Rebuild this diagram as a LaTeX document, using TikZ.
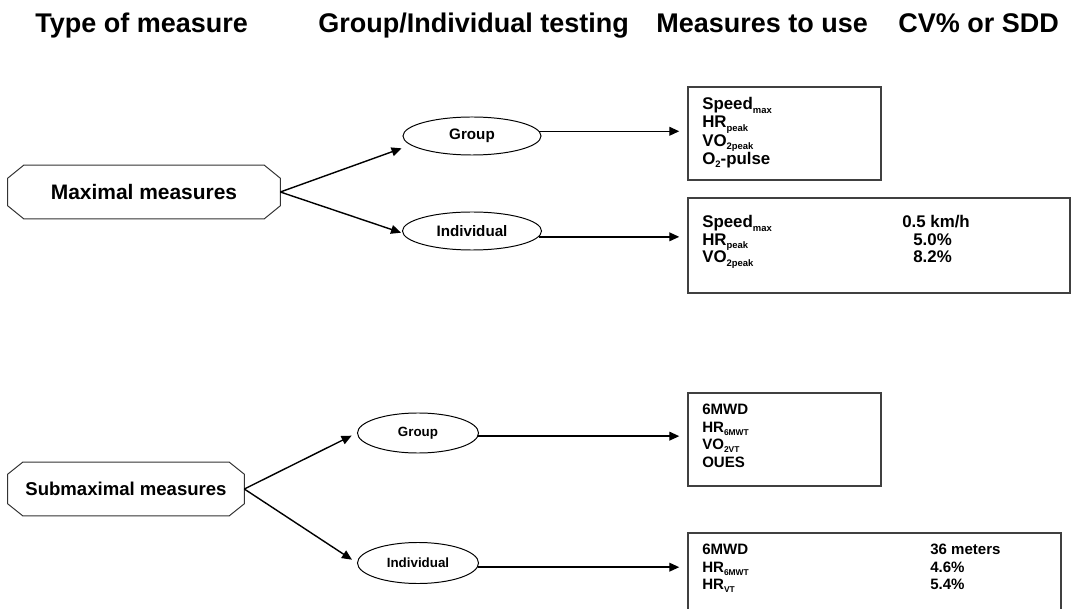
\documentclass[tikz,border=0pt]{standalone}
\usepackage{fontspec}
\setmainfont{Liberation Sans}
\usepackage{graphicx}
\usetikzlibrary{shapes.geometric,arrows.meta,positioning}
% Subindices pequenos y bajados
\newcommand{\lo}[1]{\smash{\raisebox{-0.4ex}{\scalebox{0.56}{#1}}}}
% Octogono alrededor de un nodo: nombre, corte horizontal, corte vertical
\newcommand{\octo}[3]{\draw[draw=black!80, line width=0.7pt]
  ([xshift=#2]#1.north west) -- ([xshift=-#2]#1.north east) -- ([yshift=-#3]#1.north east)
  -- ([yshift=#3]#1.south east) -- ([xshift=-#2]#1.south east) -- ([xshift=#2]#1.south west)
  -- ([yshift=#3]#1.south west) -- ([yshift=-#3]#1.north west) -- cycle;}

\begin{document}
\begin{tikzpicture}[x=0.025cm, y=-0.025cm,
  titulo/.style={font=\fontsize{19.2}{22}\selectfont\bfseries, inner sep=0, anchor=base west},
  tipo/.style={rectangle, inner sep=0, minimum height=1.325cm},
  elipse/.style={ellipse, draw, line width=0.7pt, inner sep=0},
  caja/.style={rectangle, draw=black!75, line width=1pt, inner sep=0},
  texto/.style={anchor=north west, inner sep=0, align=left},
  flecha/.style={line width=1pt, -{Triangle[length=0.25cm,width=0.22cm]}}]
\useasboundingbox (0,0) rectangle (1071,609);

% Titulos de las columnas
\node[titulo] (t1) at (35,33) {Type of measure};
\node[titulo] (t2) at (318,33) {Group/Individual testing};
\node[titulo] (t3) at (656,33) {Measures to use};
\node[titulo] (t4) at (898,33) {CV\% or SDD};

% Tipos de medida
\node[tipo, minimum width=6.8cm, font=\fontsize{14.9}{16}\selectfont\bfseries] (maxm) at (144,192) {Maximal measures};
\node[tipo, minimum width=5.9cm, font=\fontsize{13.2}{15}\selectfont\bfseries] (subm) at (126,489) {Submaximal measures};
\octo{maxm}{0.4cm}{0.325cm}
\octo{subm}{0.375cm}{0.3cm}

% Grupo o individuo
\node[elipse, minimum width=3.45cm, minimum height=0.95cm, font=\fontsize{10.8}{12}\selectfont\bfseries] (grpA) at (472,136) {Group};
\node[elipse, minimum width=3.475cm, minimum height=0.95cm, font=\fontsize{10.8}{12}\selectfont\bfseries] (indA) at (472,231) {Individual};
\node[elipse, minimum width=3.025cm, minimum height=1cm, font=\fontsize{9.5}{11}\selectfont\bfseries] (grpB) at (418,433) {Group};
\node[elipse, minimum width=3.025cm, minimum height=1.025cm, font=\fontsize{9.5}{11}\selectfont\bfseries] (indB) at (418,563) {Individual};

% Cajas con las medidas
\node[caja, minimum width=4.825cm, minimum height=2.325cm] (boxA) at (784.5,133.5) {};
\node[caja, minimum width=9.55cm, minimum height=2.375cm] (boxB) at (879,245.5) {};
\node[caja, minimum width=4.825cm, minimum height=2.325cm] (boxC) at (784.5,439.5) {};
\node[caja, minimum width=9.325cm, minimum height=2.3cm] (boxD) at (874.5,579) {};

\node[texto, font=\fontsize{12}{13}\selectfont\bfseries] (txtA) at (702,97)
  {Speed\lo{max}\\HR\lo{peak}\\VO\lo{2peak}\\O\lo{2}-pulse};
\node[texto, font=\fontsize{12}{12.6}\selectfont\bfseries] (txtB) at (702,215)
  {Speed\lo{max}\\HR\lo{peak}\\VO\lo{2peak}};
\node[texto, font=\fontsize{12}{12.6}\selectfont\bfseries] (cvB) at (902,215)
  {0.5 km/h\\\hspace*{0.275cm}5.0\%\\\hspace*{0.275cm}8.2\%};
\node[texto, font=\fontsize{10.7}{12.4}\selectfont\bfseries] (txtC) at (702,404)
  {6MWD\\HR\lo{6MWT}\\VO\lo{2VT}\\OUES};
\node[texto, font=\fontsize{10.7}{12.4}\selectfont\bfseries] (txtD) at (702,544)
  {6MWD\\HR\lo{6MWT}\\HR\lo{VT}};
\node[texto, font=\fontsize{10.7}{12.4}\selectfont\bfseries] (cvD) at (930,544)
  {36 meters\\4.6\%\\5.4\%};

% Flechas
\draw[flecha, shorten >=0.025cm] (maxm.east) -- ([yshift=-0.3cm]grpA.west);
\draw[flecha, shorten >=0.025cm] (maxm.east) -- ([yshift=-0.05cm]indA.west);
\draw[flecha, shorten >=0.15cm] (subm.east) -- (grpB.west);
\draw[flecha, shorten >=0.15cm] (subm.east) -- (indB.west);

\draw[flecha, shorten >=0.2cm] (grpA.4) -- (grpA.4 -| boxA.west);
\draw[flecha, shorten >=0.2cm] (indA.-5) -- (indA.-5 -| boxB.west);
\draw[flecha, shorten >=0.2cm] (grpB.-3) -- (grpB.-3 -| boxC.west);
\draw[flecha, shorten >=0.2cm] (indB.-4) -- (indB.-4 -| boxD.west);
\end{tikzpicture}
\end{document}
